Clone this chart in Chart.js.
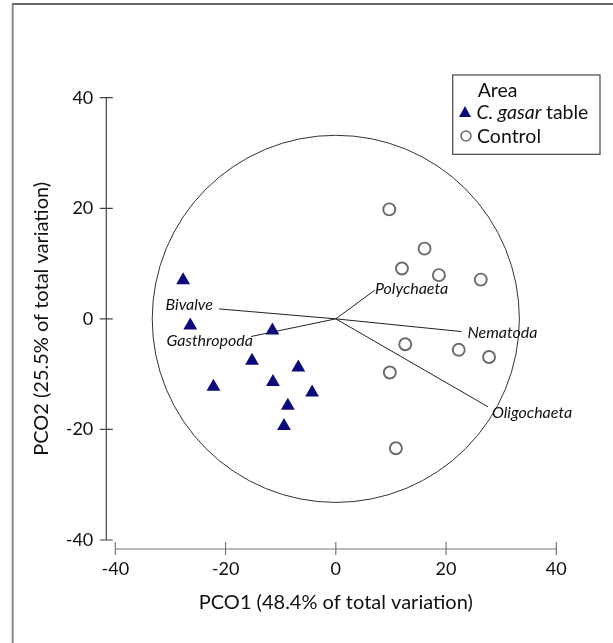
<!DOCTYPE html>
<html><head><meta charset="utf-8">
<script src="https://cdn.jsdelivr.net/npm/chart.js@4"></script>
<style>html,body{margin:0;padding:0;background:#fff;}#wrap{width:613px;height:643px;position:relative;}</style>
</head><body><div id="wrap"><canvas id="c" width="613" height="643"></canvas></div>
<script>
// ---- data ----
const xTicks = [-40, -20, 0, 20, 40];
const yTicks = [-40, -20, 0, 20, 40];
const tableX = [-27.7, -26.4, -11.5, -15.2, -6.8, -22.2, -11.4, -4.3, -8.7, -9.4];
const tableY = [7.0, -1.2, -2.1, -7.6, -8.8, -12.3, -11.4, -13.3, -15.7, -19.4];
const controlX = [9.7, 16.1, 12.0, 18.7, 26.3, 12.6, 22.3, 27.8, 9.8, 10.9];
const controlY = [19.8, 12.7, 9.1, 7.9, 7.1, -4.6, -5.6, -6.9, -9.7, -23.4];
const vectorNames = ['Bivalve', 'Gasthropoda', 'Polychaeta', 'Nematoda', 'Oligochaeta'];
const vectorX = [-21.2, -15.4, 7.1, 22.8, 27.6];
const vectorY = [1.8, -3.2, 5.2, -2.3, -15.9];
const circleRadius = 33.3;
const xTitle = 'PCO1 (48.4% of total variation)';
const yTitle = 'PCO2 (25.5% of total variation)';
const legendTitle = 'Area';
const seriesNames = ['C. gasar table', 'Control'];

// ---- styles ----
const FONT = 'Lato, "Open Sans", sans-serif';
const NAVY = '#0b0b7a';
const labelStyle = [
  {align: 'right', dx: -6, dy: -4},
  {align: 'right', dx: 2, dy: 4},
  {align: 'left', dx: 0, dy: -1},
  {align: 'left', dx: 6, dy: 1},
  {align: 'left', dx: 4, dy: 6}
];

const pts = (xs, ys) => xs.map((x, i) => ({x: x, y: ys[i]}));

const datasets = [
  {label: seriesNames[0], data: pts(tableX, tableY), pointStyle: 'triangle', pointRadius: 8,
   backgroundColor: NAVY, borderColor: NAVY, borderWidth: 0},
  {label: seriesNames[1], data: pts(controlX, controlY), pointStyle: 'circle', pointRadius: 6,
   backgroundColor: 'rgba(255,255,255,0)', borderColor: '#6a6a6a', borderWidth: 1.9}
];
vectorNames.forEach((n, i) => {
  datasets.push({label: n, data: [{x: 0, y: 0}, {x: vectorX[i], y: vectorY[i]}], showLine: true,
    pointRadius: 0, borderColor: '#222', borderWidth: 1, backgroundColor: '#222'});
});

const decor = {
  id: 'decor',
  beforeDraw(chart) {
    const ctx = chart.ctx;
    ctx.save();
    ctx.fillStyle = '#fff';
    ctx.fillRect(0, 0, chart.width, chart.height);
    ctx.lineWidth = 1.5;
    ctx.strokeStyle = '#333';
    ctx.beginPath(); ctx.moveTo(12, 4); ctx.lineTo(chart.width, 4); ctx.stroke();
    ctx.strokeStyle = '#888'; ctx.lineWidth = 2;
    ctx.beginPath(); ctx.moveTo(12.7, 4); ctx.lineTo(12.7, chart.height); ctx.stroke();
    ctx.restore();
  },
  beforeDatasetsDraw(chart) {
    const {ctx, scales: {x, y}} = chart;
    const cx = x.getPixelForValue(0), cy = y.getPixelForValue(0);
    const r = x.getPixelForValue(circleRadius) - cx;
    ctx.save();
    ctx.strokeStyle = '#333'; ctx.lineWidth = 1;
    ctx.beginPath(); ctx.arc(cx, cy, r, 0, Math.PI * 2); ctx.stroke();
    const ax = chart.chartArea.left - 9;
    const ay = chart.chartArea.bottom + 9;
    ctx.strokeStyle = '#444'; ctx.lineWidth = 1.2;
    ctx.beginPath();
    ctx.moveTo(ax, y.getPixelForValue(yTicks[yTicks.length - 1]));
    ctx.lineTo(ax, y.getPixelForValue(yTicks[0]));
    yTicks.forEach(v => { const py = y.getPixelForValue(v); ctx.moveTo(ax - 6.5, py); ctx.lineTo(ax + 6.5, py); });
    ctx.stroke();
    ctx.strokeStyle = '#777';
    ctx.beginPath();
    ctx.moveTo(x.getPixelForValue(xTicks[0]), ay);
    ctx.lineTo(x.getPixelForValue(xTicks[xTicks.length - 1]), ay);
    xTicks.forEach(v => { const px = x.getPixelForValue(v); ctx.moveTo(px, ay - 7); ctx.lineTo(px, ay + 6); });
    ctx.stroke();
    ctx.restore();
  },
  afterDatasetsDraw(chart) {
    const {ctx, scales: {x, y}} = chart;
    ctx.save();
    ctx.fillStyle = '#111';
    ctx.font = 'italic 16px ' + FONT;
    ctx.textBaseline = 'middle';
    vectorNames.forEach((n, i) => {
      const s = labelStyle[i];
      ctx.textAlign = s.align;
      ctx.fillText(n, x.getPixelForValue(vectorX[i]) + s.dx, y.getPixelForValue(vectorY[i]) + s.dy);
    });
    // legend
    const L = 452.7, T = 75, W = 147.3, H = 79.3;
    ctx.strokeStyle = '#444'; ctx.lineWidth = 1.2;
    ctx.strokeRect(L, T, W, H);
    ctx.textAlign = 'left';
    ctx.font = '19.5px ' + FONT;
    ctx.fillStyle = '#111';
    ctx.fillText(legendTitle, 477.7, 91);
    const tx = 465, ty = 113;
    ctx.fillStyle = NAVY;
    ctx.beginPath();
    ctx.moveTo(tx, ty - 7); ctx.lineTo(tx + 6, ty + 4); ctx.lineTo(tx - 6, ty + 4); ctx.closePath(); ctx.fill();
    ctx.fillStyle = '#111';
    const parts = seriesNames[0].split(' ');
    const ital = parts.slice(0, 2).join(' ');
    ctx.font = 'italic 19.5px ' + FONT;
    ctx.fillText(ital, 476.5, 112.5);
    const w = ctx.measureText(ital + ' ').width;
    ctx.font = '19.5px ' + FONT;
    ctx.fillText(parts.slice(2).join(' '), 476.5 + w, 112.5);
    ctx.strokeStyle = '#6a6a6a'; ctx.lineWidth = 1.6;
    ctx.beginPath(); ctx.arc(466, 136, 5, 0, Math.PI * 2); ctx.stroke();
    ctx.fillText(seriesNames[1], 477, 136.5);
    ctx.restore();
  }
};

new Chart(document.getElementById('c'), {
  type: 'scatter',
  data: {datasets: datasets},
  options: {
    responsive: false, animation: false, devicePixelRatio: 1,
    layout: {padding: {left: 0, top: 97.7, right: 56.7, bottom: 0}},
    plugins: {legend: {display: false}, tooltip: {enabled: false}},
    scales: {
      x: {
        type: 'linear', min: -40, max: 40,
        afterBuildTicks: s => { s.ticks = xTicks.map(v => ({value: v})); },
        afterFit: s => { s.height = 103; },
        grid: {display: false, drawTicks: false}, border: {display: false},
        ticks: {padding: 18.5, color: '#111', font: {family: FONT, size: 18}},
        title: {display: true, text: xTitle, color: '#111', font: {family: FONT, size: 20}, padding: {top: 0, bottom: 28.3}}
      },
      y: {
        type: 'linear', min: -40, max: 40,
        afterBuildTicks: s => { s.ticks = yTicks.map(v => ({value: v})); },
        afterFit: s => { s.width = 115.3; },
        grid: {display: false, drawTicks: false}, border: {display: false},
        ticks: {padding: 22, color: '#111', font: {family: FONT, size: 18}},
        title: {display: true, text: yTitle, color: '#111', font: {family: FONT, size: 20}, padding: {top: 30, bottom: 0}}
      }
    }
  },
  plugins: [decor]
});
</script>
</body></html>
